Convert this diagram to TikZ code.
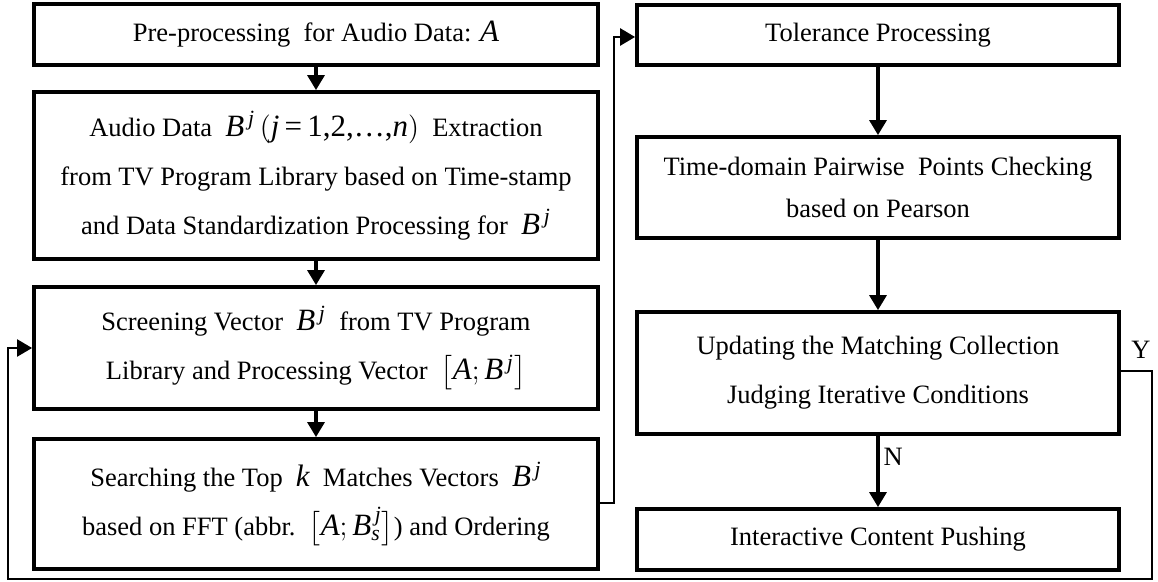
\documentclass[tikz,border=0pt]{standalone}
\usepackage{amsmath}
\usepackage{fontspec}
\setmainfont{Liberation Serif}
\usetikzlibrary{arrows.meta}
\newcommand{\mth}[1]{{\fontsize{15.5}{15.5}\selectfont$#1$}}
\tikzset{
  box/.style={draw, line width=1.9pt, inner sep=0pt, align=center,
    font=\fontsize{13.25}{24.5}\selectfont},
  flow/.style={line width=1.6pt, -{Triangle[width=8.5pt,length=7.5pt]}},
  loop/.style={line width=1.1pt},
  lbl/.style={font=\fontsize{13.25}{15}\selectfont, inner sep=0pt}
}
\begin{document}
\begin{tikzpicture}[x=0.5pt,y=-0.5pt]
\useasboundingbox (0,0) rectangle (1158,582);
% left column
\node[box, minimum width=282pt, minimum height=30.5pt] (b1) at (316,34.5)
  {Pre-processing\ \ for Audio Data: \mth{\mathit{A}}};
\node[box, minimum width=282pt, minimum height=83.5pt] (b2) at (316,175.5)
  {Audio Data\ \ \mth{\mathit{B}^{\,\mathit{j}}\,(\mathit{j}\text{\,=\,1,2,\ldots,}\mathit{n})}\ \ Extraction\\
   from TV Program Library based on Time-stamp\\
   and Data Standardization Processing for\ \ \mth{\mathit{B}^{\,\mathit{j}}}};
\node[box, minimum width=282pt, minimum height=61pt] (b3) at (316,348)
  {Screening Vector\ \ \mth{\mathit{B}^{\,\mathit{j}}}\ \ from TV Program\\
   Library and Processing Vector\ \ \mth{\bigl[\mathit{A};\mathit{B}^{\,\mathit{j}}\bigr]}};
\node[box, minimum width=282pt, minimum height=65pt] (b4) at (316,504)
  {Searching the Top\ \ \mth{\mathit{k}}\ \ Matches Vectors\ \ \mth{\mathit{B}^{\,\mathit{j}}}\\
   based on FFT (abbr.\ \ \mth{\bigl[\mathit{A};\mathit{B}^{\,\mathit{j}}_{\mathit{s}}\bigr]}) and Ordering};
% right column
\node[box, minimum width=241pt, minimum height=30pt] (t1) at (878,35)
  {Tolerance Processing};
\node[box, minimum width=241pt, minimum height=50.5pt, font=\fontsize{13.25}{21}\selectfont] (t2) at (878,187.5)
  {Time-domain Pairwise\ \ Points Checking\\ based on Pearson};
\node[box, minimum width=241pt, minimum height=61pt] (t3) at (878,373)
  {Updating the Matching Collection\\ Judging Iterative Conditions};
\node[box, minimum width=241pt, minimum height=30.5pt] (t4) at (878,539.5)
  {Interactive Content Pushing};
% coordinates
\coordinate (r1) at (614,503);
\coordinate (r2) at (614,37);
\coordinate (y1) at (1152,371);
\coordinate (y2) at (1152,579);
\coordinate (y3) at (8,579);
\coordinate (y4) at (8,348);
% connectors
\draw[flow] (b1) -- (b2);
\draw[flow] (b2) -- (b3);
\draw[flow] (b3) -- (b4);
\draw[flow] (t1) -- (t2);
\draw[flow] (t2) -- (t3);
\draw[flow] (t3) -- node[lbl, right, pos=0.3, xshift=2pt] (nl) {N} (t4);
\draw[flow, line width=1.3pt] (b4.east |- r1) -- (r1) -- (r2) -- (t1.west |- r2);
\draw[loop, -{Triangle[width=8.5pt,length=7.5pt]}] (t3.east |- y1) -- (y1) -- (y2) -- (y3) -- (y4) -- (b3.west |- y4);
\node[lbl] (yl) at (1141,350) {Y};
\end{tikzpicture}
\end{document}
